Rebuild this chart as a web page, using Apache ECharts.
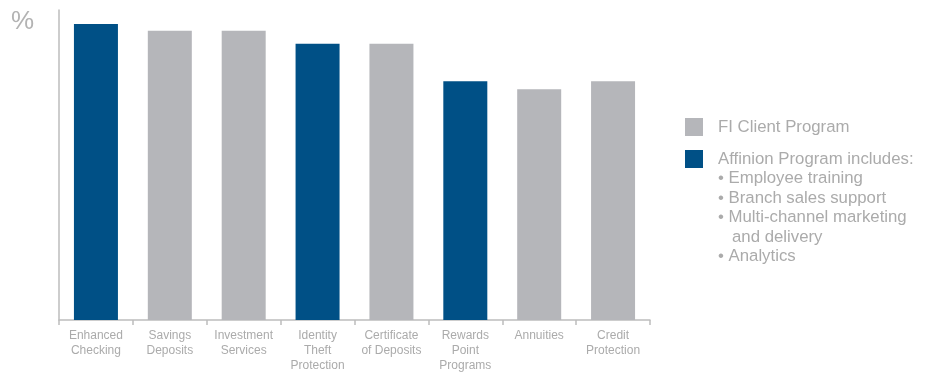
<!DOCTYPE html>
<html>
<head>
<meta charset="utf-8">
<script src="https://cdn.jsdelivr.net/npm/echarts@6/dist/echarts.min.js"></script>
<style>
  html, body { margin: 0; padding: 0; background: #fff; }
  #main { width: 929px; height: 373px; }
</style>
</head>
<body>
<div id="main"></div>
<script>
// chart data
const categories = [
  'Enhanced\nChecking', 'Savings\nDeposits', 'Investment\nServices', 'Identity\nTheft\nProtection',
  'Certificate\nof Deposits', 'Rewards\nPoint\nPrograms', 'Annuities', 'Credit\nProtection'
];
const clientValues = [null, 93.3, 93.3, null, 89.1, null, 74.4, 77];
const affinionValues = [95.5, null, null, 89.1, null, 77, null, null];
const bulletLines = [
  '• Employee training',
  '• Branch sales support',
  '• Multi-channel marketing',
  '   and delivery',
  '• Analytics'
];

const GRAY = '#b5b6ba';
const BLUE = '#005086';
const TEXT = '#ababab';

const chartDom = document.getElementById('main');
const myChart = echarts.init(chartDom);

const option = {
  animation: false,
  textStyle: { fontFamily: 'Liberation Sans, Arial, sans-serif' },
  grid: { left: 59, right: 279, top: 10, bottom: 50 },
  legend: {
    orient: 'vertical',
    left: 680,
    top: 113,
    itemWidth: 18,
    itemHeight: 18,
    itemGap: 14,
    icon: 'rect',
    textStyle: { color: TEXT, fontSize: 16.8, padding: [0, 0, 0, 10] },
    data: ['FI Client Program', 'Affinion Program includes:']
  },
  xAxis: {
    type: 'category',
    data: categories,
    axisLine: { lineStyle: { color: '#bdbdbd', width: 1.5 } },
    axisTick: { show: true, length: 5, lineStyle: { color: '#bdbdbd', width: 1.5 } },
    axisLabel: { color: TEXT, fontSize: 12, lineHeight: 15, margin: 8, interval: 0 }
  },
  yAxis: {
    type: 'value',
    min: 0,
    max: 100,
    axisLine: { show: true, lineStyle: { color: '#bdbdbd', width: 1.5 } },
    axisTick: { show: false },
    axisLabel: { show: false },
    splitLine: { show: false }
  },
  graphic: [
    {
      type: 'text', left: 11, top: 9,
      style: { text: '%', fill: '#b3b3b3', font: '26px Liberation Sans, Arial, sans-serif' }
    },
    {
      type: 'text', left: 718, top: 169,
      style: {
        text: bulletLines.join('\n'),
        fill: TEXT,
        font: '16.8px Liberation Sans, Arial, sans-serif',
        lineHeight: 19.5
      }
    }
  ],
  series: [
    {
      name: 'FI Client Program',
      type: 'bar',
      stack: 'all',
      barWidth: 44,
      data: clientValues,
      itemStyle: { color: GRAY }
    },
    {
      name: 'Affinion Program includes:',
      type: 'bar',
      stack: 'all',
      barWidth: 44,
      data: affinionValues,
      itemStyle: { color: BLUE }
    }
  ]
};

option && myChart.setOption(option);
</script>
</body>
</html>
